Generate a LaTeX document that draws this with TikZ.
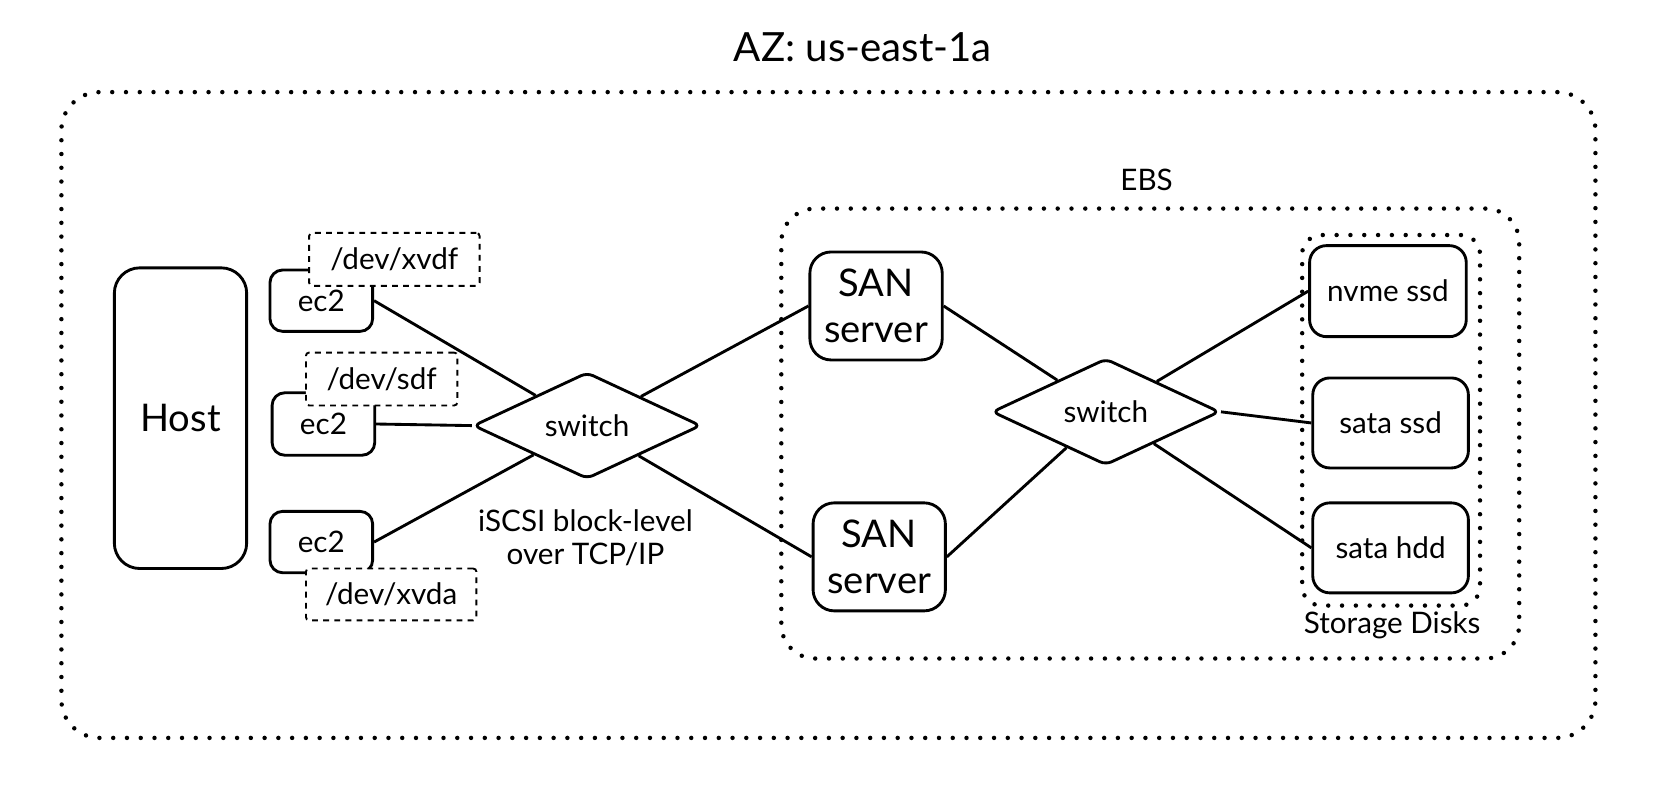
\documentclass[tikz,border=0pt]{standalone}
\usepackage{fontspec}
\setmainfont{Lato}
\usetikzlibrary{shapes.geometric}
\tikzset{
  box/.style={draw, line width=2.7pt, rounded corners=12pt, align=center, inner sep=0pt, font=\fontsize{28}{32}\selectfont},
  bigbox/.style={box, rounded corners=24pt, font=\fontsize{36}{43}\selectfont},
  devbox/.style={draw, fill=white, line width=1.8pt, dash pattern=on 5.5pt off 5pt, rounded corners=3pt, inner sep=0pt, font=\fontsize{28}{32}\selectfont},
  swbox/.style={draw, shape=diamond, line width=2.7pt, rounded corners=6pt, inner sep=0pt, font=\fontsize{28}{32}\selectfont},
  region/.style={draw, line width=4.2pt, line cap=round, dash pattern=on 0pt off 13pt, inner sep=0pt},
  lbl/.style={align=center, inner sep=0pt, font=\fontsize{28}{32}\selectfont},
  conn/.style={line width=2.7pt},
}
\begin{document}
\begin{tikzpicture}[x=1pt,y=-1pt]
\useasboundingbox (0,0) rectangle (1568,748);
% containers
\node[region, rounded corners=36pt, minimum width=1449pt, minimum height=610pt] (az) at (782.5,392) {};
\node[lbl, font=\fontsize{38}{44}\selectfont] (azlbl) at (815,45) {AZ: us-east-1a};
\node[region, dash pattern=on 0pt off 13.03pt, rounded corners=32pt, minimum width=697pt, minimum height=425pt] (ebs) at (1086.5,409.5) {};
\node[lbl] (ebslbl) at (1083,170) {EBS};
\node[region, dash pattern=on 0pt off 13.053pt, rounded corners=18pt, minimum width=168pt, minimum height=350pt] (store) at (1314,397) {};
\node[lbl] (storelbl) at (1315,591) {Storage Disks};
% host and instances
\node[bigbox, minimum width=125pt, minimum height=284pt] (host) at (170.5,395) {Host};
\node[box, minimum width=97pt, minimum height=58pt] (ec2a) at (303.5,284) {ec2};
\node[box, minimum width=97pt, minimum height=59pt] (ec2b) at (305.5,400.5) {ec2};
\node[box, minimum width=97pt, minimum height=58pt] (ec2c) at (303.5,512) {ec2};
\node[devbox, minimum width=161pt, minimum height=50pt] (dev1) at (372.5,245) {/dev/xvdf};
\node[devbox, minimum width=143pt, minimum height=50pt] (dev2) at (360.5,358) {/dev/sdf};
\node[devbox, minimum width=161pt, minimum height=49pt] (dev3) at (369.5,561.5) {/dev/xvda};
% switches
\node[swbox, minimum width=215pt, minimum height=100pt] (sw1) at (554.5,402) {switch};
\node[lbl, font=\fontsize{28}{31}\selectfont] (iscsi) at (553,508) {iSCSI block-level\\over TCP/IP};
\node[bigbox, minimum width=125pt, minimum height=102pt, rounded corners=20pt] (san1) at (827.5,289) {SAN\\server};
\node[bigbox, minimum width=125pt, minimum height=102pt, rounded corners=20pt] (san2) at (830.5,526) {SAN\\server};
\node[swbox, minimum width=215pt, minimum height=97pt] (sw2) at (1044.5,389) {switch};
% disks
\node[box, rounded corners=16pt, minimum width=148pt, minimum height=86pt] (nvme) at (1311,275) {nvme ssd};
\node[box, rounded corners=16pt, minimum width=147pt, minimum height=85pt] (sssd) at (1313.5,399.5) {sata ssd};
\node[box, rounded corners=16pt, minimum width=147pt, minimum height=85pt] (shdd) at (1313.5,517.5) {sata hdd};
% connectors
\draw[conn] (ec2a.east) -- (sw1);
\draw[conn] (ec2b.east) -- (sw1.west);
\draw[conn] (ec2c.east) -- (sw1);
\draw[conn] (sw1) -- (san1.west);
\draw[conn] (sw1) -- (san2.west);
\draw[conn] (san1.east) -- (sw2);
\draw[conn] (san2.east) -- (sw2);
\draw[conn] (sw2) -- (nvme.west);
\draw[conn] (sw2.east) -- (sssd.west);
\draw[conn] (sw2) -- (shdd.west);
\end{tikzpicture}
\end{document}
